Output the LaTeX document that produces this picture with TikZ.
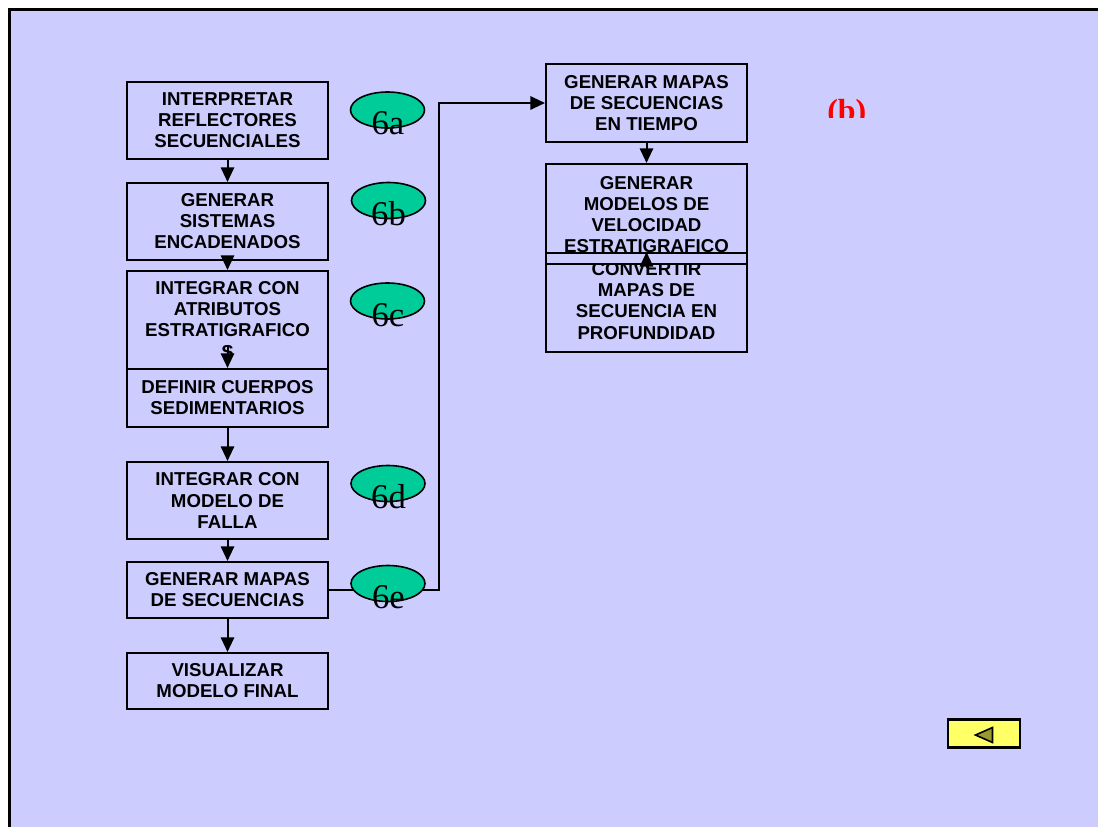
\documentclass[tikz,border=0pt]{standalone}
\usepackage{fontspec}
\setmainfont{Liberation Sans}
\newfontfamily\timesf{Liberation Serif}
\usetikzlibrary{arrows.meta,shapes.geometric}
\definecolor{bg}{HTML}{CCCCFF}
\definecolor{tagfill}{HTML}{00CC99}
\definecolor{btnfill}{HTML}{FFFF66}
\definecolor{btntri}{HTML}{999933}
\tikzset{
  box/.style={draw, line width=1.5pt, fill=bg, minimum width=150.75pt,
    inner sep=0pt, align=center, font=\bfseries\fontsize{14}{15.8}\selectfont},
  boxtext/.style={inner sep=0pt, align=center, font=\bfseries\fontsize{14}{15.8}\selectfont},
  arr/.style={line width=1.5pt, -{Triangle[length=11pt,width=10pt]}},
  link/.style={line width=1.5pt},
  oval/.style={ellipse, draw, line width=1.2pt, fill=tagfill, inner sep=0pt,
    minimum width=55.5pt, minimum height=27pt},
  tag/.style={inner sep=0pt, font=\timesf\fontsize{26}{26}\selectfont}
}
\begin{document}
\begin{tikzpicture}[x=0.75pt,y=-0.75pt]
\clip (0,0) rectangle (1098,827);
\fill[white] (0,0) rectangle (1098,827);
% slide frame
\draw[line width=1.8pt, fill=bg] (9.5,9.5) rectangle (1130,860);

% left column
\node[box, minimum height=57.75pt] (b1) at (227.5,120.5) {INTERPRETAR\\REFLECTORES\\SECUENCIALES};
\node[box, minimum height=57.75pt] (b2) at (227.5,221.5) {GENERAR\\SISTEMAS\\ENCADENADOS};
\node[box, minimum height=73.5pt] (b3) at (227.5,320) {INTEGRAR CON\\ATRIBUTOS\\ESTRATIGRAFICO\\S};
\node[box, minimum height=43.5pt] (b4) at (227.5,398) {DEFINIR CUERPOS\\SEDIMENTARIOS};
\node[box, minimum height=57.75pt] (b5) at (227.5,500.5) {INTEGRAR CON\\MODELO DE\\FALLA};
\node[box, minimum height=42pt] (b6) at (227.5,590) {GENERAR MAPAS\\DE SECUENCIAS};
\node[box, minimum height=42pt] (b7) at (227.5,681) {VISUALIZAR\\MODELO FINAL};

% right column
\node[box, minimum height=58.5pt] (r1) at (646.5,103) {GENERAR MAPAS\\DE SECUENCIAS\\EN TIEMPO};
\node[box, minimum height=74.25pt] (r2) at (646.5,213.5) {};
\node[box, minimum height=74.25pt] (r3) at (646.5,302.5) {};
\draw[line width=1.5pt] (r2.south west) -- (r2.south east);
\begin{scope}
  \clip (540,160) rectangle (750,252.5);
  \node[boxtext] (r2t) at (646.5,214.5) {GENERAR\\MODELOS DE\\VELOCIDAD\\ESTRATIGRAFICO};
\end{scope}
\begin{scope}
  \clip (540,263.5) rectangle (750,350);
  \node[boxtext] (r3t) at (646.5,301) {CONVERTIR\\MAPAS DE\\SECUENCIA EN\\PROFUNDIDAD};
\end{scope}

% connectors
\coordinate (a34) at (227.5,345);
\coordinate (a23) at (646.5,268);
\draw[arr] (b1.south) -- (b2.north);
\draw[arr] (b2.south) -- (b3.north);
\draw[arr] (a34) -- (b4.north);
\draw[arr] (b4.south) -- (b5.north);
\draw[arr] (b5.south) -- (b6.north);
\draw[arr] (b6.south) -- (b7.north);
\draw[arr] (r1.south) -- (r2.north);
\draw[arr] (a23) -- (r3.north);
\draw[arr] (b6.east) -- ++(109.5,0) |- (r1.west);

% step tags
\node[oval] (e6a) at (387.5,110) {};
\node[oval] (e6b) at (388.5,200.5) {};
\node[oval] (e6c) at (387.5,301) {};
\node[oval] (e6d) at (388,483.5) {};
\node[oval] (e6e) at (388,583.5) {};
\node[tag, anchor=base] (t6a) at (388,135) {6a};
\node[tag, anchor=base] (t6b) at (388.5,226) {6b};
\node[tag, anchor=base] (t6c) at (388,326) {6c};
\node[tag, anchor=base] (t6d) at (388.5,508) {6d};
\node[tag, anchor=base] (t6e) at (388.5,608) {6e};

% part label
\begin{scope}
  \clip (800,80) rectangle (900,118);
  \node[anchor=base west, inner sep=0pt, text=red,
    font=\timesf\bfseries\fontsize{24}{24}\selectfont] (lbl) at (827,122) {(b)};
\end{scope}

% back button
\node[draw, line width=2.2pt, fill=btnfill, minimum width=54pt, minimum height=20.5pt,
  inner sep=0pt] (btn) at (984,733.5) {};
\draw[line width=1.2pt, fill=btntri, line join=miter] (975.5,735) -- (992.5,727.5) -- (992.5,742.5) -- cycle;
\end{tikzpicture}
\end{document}
